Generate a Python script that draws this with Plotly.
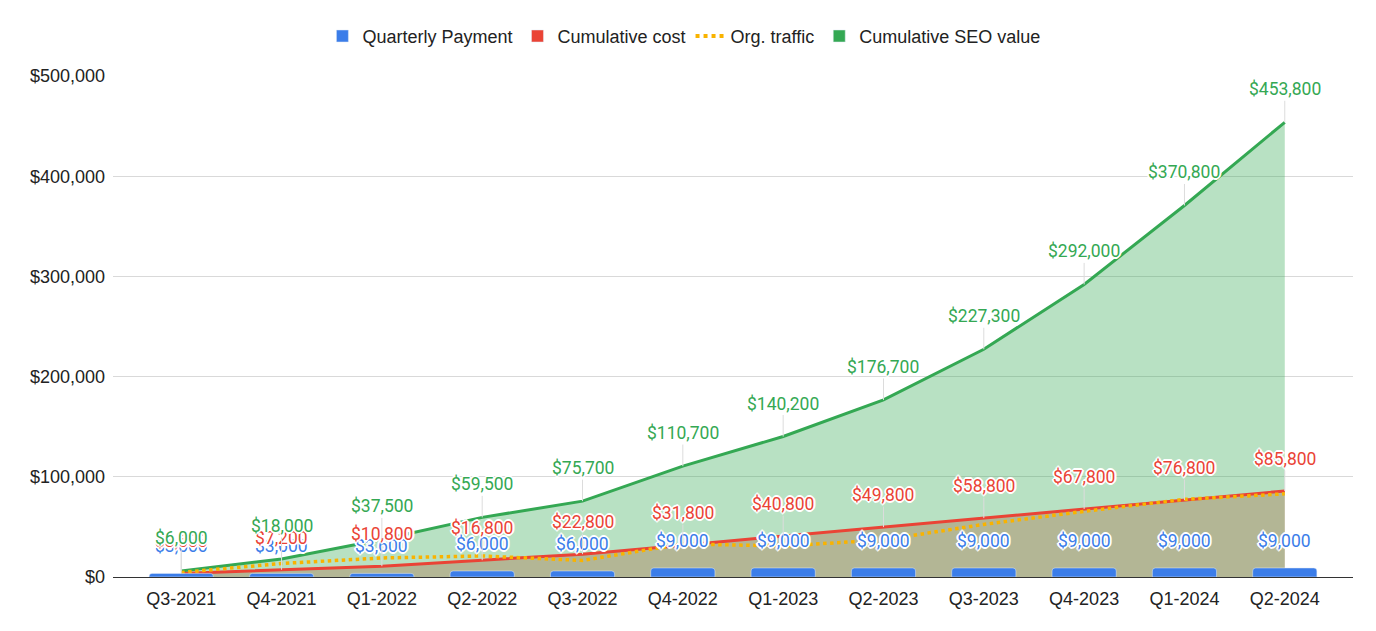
import plotly.graph_objects as go

quarters = ["Q3-2021", "Q4-2021", "Q1-2022", "Q2-2022", "Q3-2022", "Q4-2022",
            "Q1-2023", "Q2-2023", "Q3-2023", "Q4-2023", "Q1-2024", "Q2-2024"]
quarterly_payment = [3600, 3600, 3600, 6000, 6000, 9000, 9000, 9000, 9000, 9000, 9000, 9000]
cumulative_cost = [3600, 7200, 10800, 16800, 22800, 31800, 40800, 49800, 58800, 67800, 76800, 85800]
org_traffic = [4500, 13500, 19000, 21000, 16500, 33000, 31000, 37000, 52500, 65500, 77500, 83000]
seo_value = [6000, 18000, 37500, 59500, 75700, 110700, 140200, 176700, 227300, 292000, 370800, 453800]

BLUE = "#3b7de9"
RED = "#ea4335"
ORANGE = "#f9b300"
GREEN = "#34a853"
TICK_FONT = dict(family="Arial, Liberation Sans, sans-serif", size=18, color="#222222")
LABEL_FAMILY = "Roboto, sans-serif"
HALO = ("1px 1px 0 #fff, -1px -1px 0 #fff, 1px -1px 0 #fff, -1px 1px 0 #fff, "
        "0 2px 0 #fff, 0 -2px 0 #fff, 2px 0 0 #fff, -2px 0 0 #fff")

xr = [-0.68, len(quarters) - 1 + 0.68]
yr = [0, 500000]

fig = go.Figure()

# filled areas (red under green, both translucent)
fig.add_trace(go.Scatter(x=quarters, y=cumulative_cost, mode="lines", fill="tozeroy",
                         fillcolor="rgba(234,67,53,0.35)", line=dict(width=0, color=RED),
                         showlegend=False, hoverinfo="skip"))
fig.add_trace(go.Scatter(x=quarters, y=seo_value, mode="lines", fill="tozeroy",
                         fillcolor="rgba(52,168,83,0.35)", line=dict(width=3, color=GREEN),
                         showlegend=False, name="Cumulative SEO value"))
fig.add_trace(go.Scatter(x=quarters, y=cumulative_cost, mode="lines",
                         line=dict(width=3, color=RED), showlegend=False, name="Cumulative cost"))
fig.add_trace(go.Scatter(x=quarters, y=org_traffic, mode="lines", name="Org. traffic",
                         line=dict(width=3.5, color=ORANGE, dash="dot"), showlegend=False))

# bars on an overlaying axis so they sit above the areas
fig.add_trace(go.Bar(x=quarters, y=quarterly_payment, name="Quarterly Payment",
                     marker=dict(color=BLUE, cornerradius=3), width=0.64,
                     xaxis="x2", yaxis="y2", showlegend=False))

# legend entries
fig.add_trace(go.Bar(x=[None], y=[None], name="Quarterly Payment", marker_color=BLUE))
fig.add_trace(go.Bar(x=[None], y=[None], name="Cumulative cost", marker_color=RED))
fig.add_trace(go.Scatter(x=[None], y=[None], mode="lines", name="Org. traffic",
                         line=dict(width=4, color=ORANGE, dash="dot")))
fig.add_trace(go.Bar(x=[None], y=[None], name="Cumulative SEO value", marker_color=GREEN))

annotations = []
for q, v in zip(quarters, quarterly_payment):
    annotations.append(dict(x=q, y=v, text=f"${v:,.0f}", showarrow=False, yshift=27,
                            font=dict(family=LABEL_FAMILY, size=17.5, color=BLUE, shadow=HALO)))
for q, v in zip(quarters, cumulative_cost):
    annotations.append(dict(x=q, y=v, text=f"${v:,.0f}", showarrow=True, arrowhead=0,
                            arrowwidth=1, arrowcolor="#dcdcdc", ax=0, ay=-32,
                            font=dict(family=LABEL_FAMILY, size=17.5, color=RED, shadow=HALO)))
for q, v in zip(quarters, seo_value):
    annotations.append(dict(x=q, y=v, text=f"${v:,.0f}", showarrow=True, arrowhead=0,
                            arrowwidth=1, arrowcolor="#dcdcdc", ax=0, ay=-33,
                            font=dict(family=LABEL_FAMILY, size=17.5, color=GREEN, shadow=HALO)))

fig.update_layout(
    width=1360, height=615,
    margin=dict(l=105, r=15, t=68, b=46),
    paper_bgcolor="white", plot_bgcolor="white",
    barmode="overlay",
    annotations=annotations,
    legend=dict(orientation="h", xref="container", yref="container", x=0.497, y=0.954,
                xanchor="center", yanchor="middle", entrywidthmode="pixels",
                font=dict(family="Arial, Liberation Sans, sans-serif", size=18, color="#222222")),
    xaxis=dict(type="category", categoryorder="array", categoryarray=quarters, range=xr,
               showgrid=False, tickfont=TICK_FONT, ticks="", ticklabelstandoff=5,
               showline=True, linecolor="#333333", linewidth=1),
    yaxis=dict(range=yr, dtick=100000, tickformat="$,.0f", tickfont=TICK_FONT,
               showgrid=True, gridcolor="#d9d9d9", gridwidth=1, zeroline=False,
               ticks="", ticklabelstandoff=7),
    xaxis2=dict(type="category", categoryorder="array", categoryarray=quarters, range=xr,
                overlaying="x", visible=False),
    yaxis2=dict(range=yr, overlaying="y", visible=False),
)

fig.write_html("out.html")
